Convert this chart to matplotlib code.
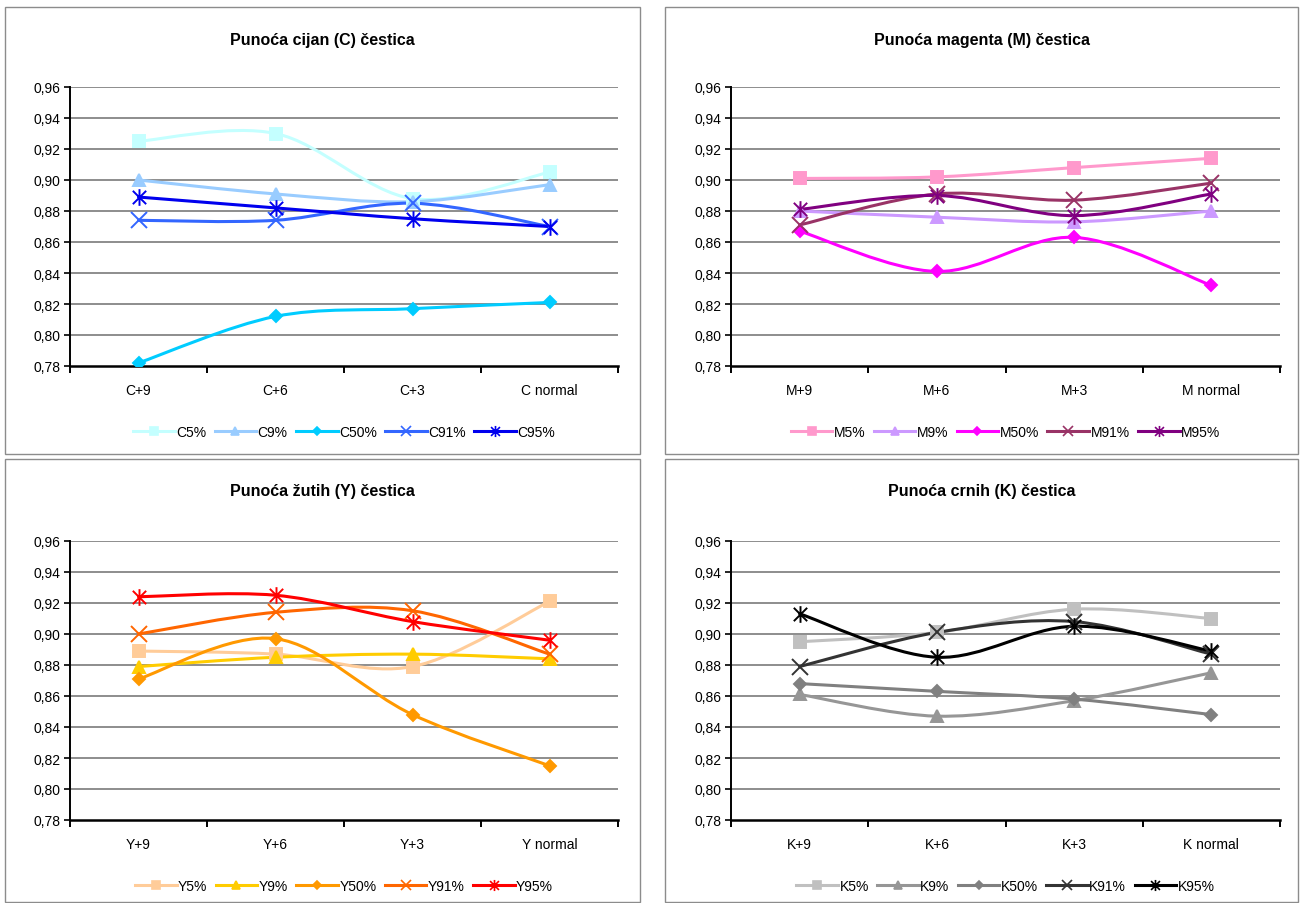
import matplotlib
matplotlib.use("Agg")
import matplotlib.pyplot as plt
from matplotlib.path import Path
from matplotlib.patches import PathPatch, Rectangle
from matplotlib.lines import Line2D
from matplotlib.ticker import FuncFormatter

plt.rcParams['font.family'] = ['Liberation Sans', 'DejaVu Sans']

# ---------------- data ----------------
c_cats = ["C+9", "C+6", "C+3", "C normal"]
c_names = ["C5%", "C9%", "C50%", "C91%", "C95%"]
c5 = [0.925, 0.930, 0.888, 0.905]
c9 = [0.900, 0.891, 0.886, 0.897]
c50 = [0.782, 0.812, 0.817, 0.821]
c91 = [0.874, 0.874, 0.885, 0.870]
c95 = [0.889, 0.882, 0.875, 0.870]

m_cats = ["M+9", "M+6", "M+3", "M normal"]
m_names = ["M5%", "M9%", "M50%", "M91%", "M95%"]
m5 = [0.901, 0.902, 0.908, 0.914]
m9 = [0.880, 0.876, 0.873, 0.880]
m50 = [0.867, 0.841, 0.863, 0.832]
m91 = [0.871, 0.891, 0.887, 0.898]
m95 = [0.881, 0.890, 0.877, 0.891]

y_cats = ["Y+9", "Y+6", "Y+3", "Y normal"]
y_names = ["Y5%", "Y9%", "Y50%", "Y91%", "Y95%"]
y5 = [0.889, 0.887, 0.879, 0.921]
y9 = [0.879, 0.885, 0.887, 0.884]
y50 = [0.871, 0.897, 0.848, 0.815]
y91 = [0.900, 0.914, 0.915, 0.887]
y95 = [0.924, 0.925, 0.908, 0.896]

k_cats = ["K+9", "K+6", "K+3", "K normal"]
k_names = ["K5%", "K9%", "K50%", "K91%", "K95%"]
k5 = [0.895, 0.901, 0.916, 0.910]
k9 = [0.861, 0.847, 0.857, 0.875]
k50 = [0.868, 0.863, 0.858, 0.848]
k91 = [0.879, 0.901, 0.908, 0.887]
k95 = [0.913, 0.885, 0.905, 0.889]

titles = ["Punoća cijan (C) čestica", "Punoća magenta (M) čestica",
          "Punoća žutih (Y) čestica", "Punoća crnih (K) čestica"]
y_ticks = [0.78, 0.80, 0.82, 0.84, 0.86, 0.88, 0.90, 0.92, 0.94, 0.96]

c_colors = ["#c4ffff", "#99ccff", "#00ccff", "#3366ff", "#0000ee"]
m_colors = ["#ff99cc", "#cc99ff", "#ff00ff", "#993366", "#800080"]
y_colors = ["#ffcc99", "#ffcc00", "#ff9900", "#ff6600", "#ff0000"]
k_colors = ["#c0c0c0", "#969696", "#808080", "#333333", "#000000"]

# Excel-style star marker: an x with a vertical bar through it
star = Path([(-1, -1), (1, 1), (-1, 1), (1, -1), (0, -1.25), (0, 1.25)],
            [Path.MOVETO, Path.LINETO, Path.MOVETO, Path.LINETO, Path.MOVETO, Path.LINETO])

markers = ["s", "^", "D", "x", star]
msizes = [9, 8, 6, 11, 12]
leg_msizes = [6, 6, 4, 7, 8]

panels = [
    (c_cats, c_names, [c5, c9, c50, c91, c95], c_colors),
    (m_cats, m_names, [m5, m9, m50, m91, m95], m_colors),
    (y_cats, y_names, [y5, y9, y50, y91, y95], y_colors),
    (k_cats, k_names, [k5, k9, k50, k91, k95], k_colors),
]

W, H = 1304, 904
fig = plt.figure(figsize=(W / 100, H / 100), dpi=100)
fig.patch.set_facecolor("white")

# panel geometry (pixels): border box, axes box
borders = [(5, 8, 640, 455), (665, 8, 1298, 455), (5, 460, 640, 903), (665, 460, 1298, 903)]
axboxes = [(70, 88, 618, 367), (731, 88, 1280, 367), (70, 542, 618, 821), (731, 542, 1280, 821)]


def smooth_path(xs, ys):
    n = len(xs)
    verts = [(xs[0], ys[0])]
    codes = [Path.MOVETO]
    for i in range(n - 1):
        x0, y0 = (xs[i - 1], ys[i - 1]) if i > 0 else (xs[i], ys[i])
        x1, y1 = xs[i], ys[i]
        x2, y2 = xs[i + 1], ys[i + 1]
        x3, y3 = (xs[i + 2], ys[i + 2]) if i + 2 < n else (xs[i + 1], ys[i + 1])
        c1 = (x1 + (x2 - x0) / 6.0, y1 + (y2 - y0) / 6.0)
        c2 = (x2 - (x3 - x1) / 6.0, y2 - (y3 - y1) / 6.0)
        verts += [c1, c2, (x2, y2)]
        codes += [Path.CURVE4, Path.CURVE4, Path.CURVE4]
    return Path(verts, codes)


for (cats, names, series, colors), (bx0, by0, bx1, by1), (ax0, ay0, ax1, ay1), title in zip(
        panels, borders, axboxes, titles):
    # panel border
    fig.patches.append(Rectangle((bx0 / W, 1 - by1 / H), (bx1 - bx0) / W, (by1 - by0) / H,
                                 transform=fig.transFigure, fill=False,
                                 edgecolor="#8c8c8c", linewidth=1.0))
    ax = fig.add_axes([ax0 / W, 1 - ay1 / H, (ax1 - ax0) / W, (ay1 - ay0) / H])
    ax.set_xlim(0, 4)
    ax.set_ylim(0.78, 0.96)
    ax.set_facecolor("white")
    for yt in y_ticks[1:]:
        ax.axhline(yt, color="#858585", linewidth=1.3, zorder=1)
    xs = [0.5, 1.5, 2.5, 3.5]
    handles = []
    for vals, name, col, mk, ms, lms in zip(series, names, colors, markers, msizes, leg_msizes):
        ax.add_patch(PathPatch(smooth_path(xs, vals), facecolor="none", edgecolor=col,
                               linewidth=2.2, zorder=3, capstyle="round", joinstyle="round"))
        ax.plot(xs, vals, linestyle="none", marker=mk, markersize=ms, color=col,
                markeredgecolor=col, markerfacecolor=col, markeredgewidth=1.4, zorder=4)
        handles.append(Line2D([0], [0], color=col, linewidth=2.2, marker=mk, markersize=lms,
                              markerfacecolor=col, markeredgecolor=col, markeredgewidth=1.2,
                              label=name))
    # axes styling
    for s in ["top", "right"]:
        ax.spines[s].set_visible(False)
    ax.spines["left"].set_color("black")
    ax.spines["left"].set_linewidth(1.4)
    ax.spines["bottom"].set_color("black")
    ax.spines["bottom"].set_linewidth(1.8)
    ax.set_yticks(y_ticks)
    ax.yaxis.set_major_formatter(FuncFormatter(lambda v, p: f"{v:.2f}".replace(".", ",")))
    ax.tick_params(axis="y", direction="out", length=4, width=1.2, labelsize=10, pad=3,
                   colors="black")
    ax.set_xticks([0, 1, 2, 3, 4])
    ax.set_xticklabels([])
    ax.tick_params(axis="x", which="major", direction="out", length=5, width=1.4)
    ax.set_xticks(xs, minor=True)
    ax.set_xticklabels(cats, minor=True)
    ax.tick_params(axis="x", which="minor", length=0, labelsize=10, pad=12)
    # title
    fig.text((bx0 + bx1) / 2 / W, 1 - (by0 + 32) / H, title, ha="center", va="center",
             fontsize=11.5, fontweight="bold")
    # legend
    fig.legend(handles=handles, loc="center",
               bbox_to_anchor=((ax0 + ax1) / 2 / W, 1 - (ay1 + 66) / H),
               ncol=5, frameon=False, fontsize=10, handlelength=3.0, handletextpad=0.1,
               columnspacing=0.6, borderaxespad=0)

fig.savefig("out.png", dpi=100, facecolor="white")
